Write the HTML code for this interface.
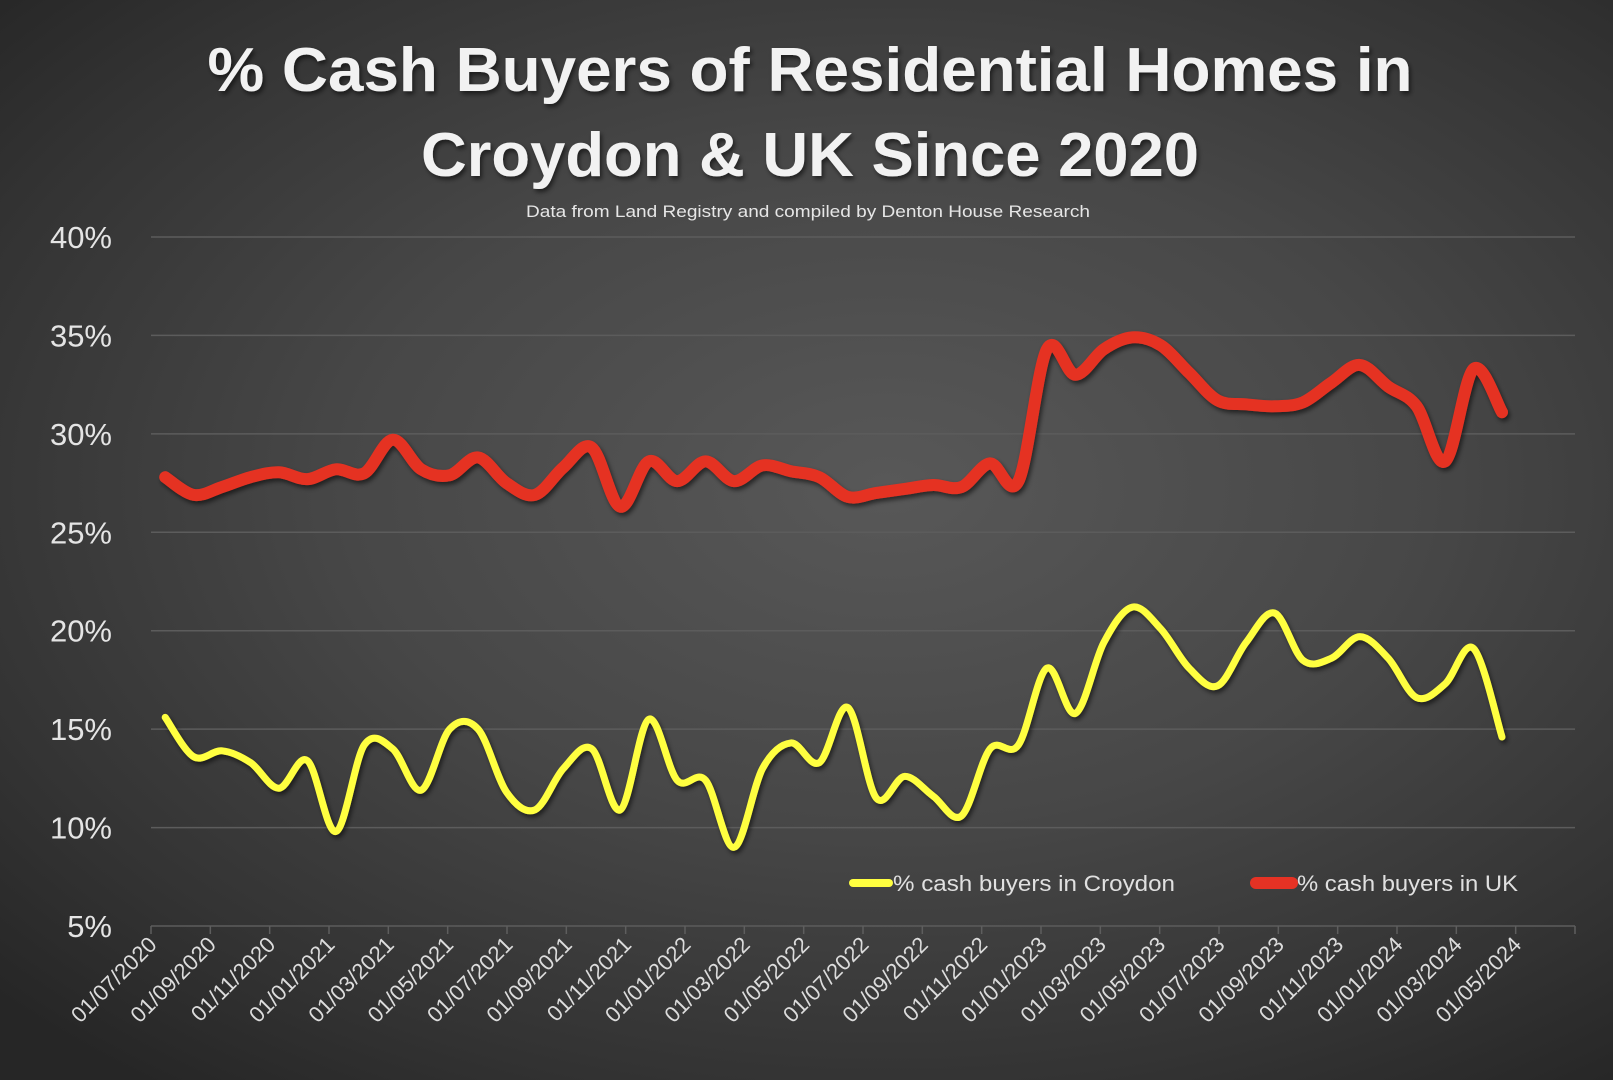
<!DOCTYPE html>
<html><head><meta charset="utf-8"><style>
html,body{margin:0;padding:0;}
body{width:1613px;height:1080px;overflow:hidden;background:radial-gradient(ellipse 75% 70% at 55% 45%,#585858 0%,#474747 45%,#333 80%,#262626 100%);font-family:"Liberation Sans",sans-serif;}
svg{display:block}
</style></head><body>
<svg id="chart" width="1613" height="1080" xmlns="http://www.w3.org/2000/svg">
<defs><filter id="sh" x="-5%" y="-20%" width="110%" height="140%"><feDropShadow dx="2" dy="3" stdDeviation="2.5" flood-color="#000" flood-opacity="0.55"/></filter></defs>
<text x="810" y="91" text-anchor="middle" font-size="62" font-weight="bold" fill="#f2f2f2" textLength="1205" lengthAdjust="spacingAndGlyphs" filter="url(#sh)">% Cash Buyers of Residential Homes in</text>
<text x="810" y="176" text-anchor="middle" font-size="62" font-weight="bold" fill="#f2f2f2" textLength="778" lengthAdjust="spacingAndGlyphs" filter="url(#sh)">Croydon &amp; UK Since 2020</text>
<text x="808" y="217" text-anchor="middle" font-size="17" fill="#e6e6e6" textLength="564" lengthAdjust="spacingAndGlyphs">Data from Land Registry and compiled by Denton House Research</text>
<g id="grid"></g><g id="yt"></g><g id="xt"></g><g id="series"></g>
<g>
<g><line x1="853" y1="883" x2="889" y2="883" stroke="#ffff40" stroke-width="8" stroke-linecap="round"/><text x="893" y="891" font-size="22" fill="#e0e0e0" textLength="282" lengthAdjust="spacingAndGlyphs">% cash buyers in Croydon</text></g>
<g><line x1="1256" y1="883" x2="1292" y2="883" stroke="#e53224" stroke-width="12" stroke-linecap="round"/><text x="1297" y="891" font-size="22" fill="#e0e0e0" textLength="221" lengthAdjust="spacingAndGlyphs">% cash buyers in UK</text></g>
</g>
</svg>
<script>
const yTicks=[5,10,15,20,25,30,35,40];
const xTickLabels=["01/07/2020","01/09/2020","01/11/2020","01/01/2021","01/03/2021","01/05/2021","01/07/2021","01/09/2021","01/11/2021","01/01/2022","01/03/2022","01/05/2022","01/07/2022","01/09/2022","01/11/2022","01/01/2023","01/03/2023","01/05/2023","01/07/2023","01/09/2023","01/11/2023","01/01/2024","01/03/2024","01/05/2024"];
const croydon=[15.6,13.6,13.9,13.3,12.0,13.4,9.8,14.2,14.0,11.9,15.0,15.0,11.8,10.9,13.0,14.0,10.9,15.5,12.4,12.4,9.0,13.0,14.3,13.3,16.1,11.5,12.6,11.6,10.6,14.0,14.2,18.1,15.8,19.4,21.2,20.1,18.1,17.2,19.4,20.9,18.5,18.6,19.7,18.6,16.6,17.3,19.1,14.6];
const uk=[27.8,26.9,27.3,27.8,28.05,27.7,28.2,28.0,29.7,28.2,27.9,28.8,27.5,26.9,28.3,29.3,26.3,28.6,27.6,28.6,27.6,28.4,28.1,27.8,26.8,27.0,27.2,27.4,27.3,28.5,27.6,34.3,33.0,34.3,34.9,34.5,33.1,31.7,31.5,31.4,31.6,32.6,33.5,32.4,31.4,28.6,33.3,31.1];
const NS="http://www.w3.org/2000/svg";
const X0=151,X1=1575,Y40=237,Y5=926,MONTHS=48;
const DX0=165.2,DX1=1502;
function xs(m){return X0+(X1-X0)*m/MONTHS;}
function xd(i,n){return DX0+(DX1-DX0)*i/(n-1);}
function ys(v){return Y5-(v-5)*(Y5-Y40)/35;}
function mk(t,a,p){const e=document.createElementNS(NS,t);for(const k in a)e.setAttribute(k,a[k]);p.appendChild(e);return e;}
const grid=document.getElementById('grid'),yt=document.getElementById('yt'),xt=document.getElementById('xt'),ser=document.getElementById('series');
yTicks.forEach(v=>{
 const l=mk('line',{x1:X0,x2:X1,y1:ys(v),y2:ys(v),stroke:'#5c5c5c','stroke-width':1.5},grid);
 
 
 const t=mk('text',{x:112,y:ys(v)+11,'text-anchor':'end','font-size':31,fill:'#e4e4e4'},yt);
 t.textContent=v+'%';
 
 
});
for(let i=0;i<=24;i++){const x=xs(i*2);const tk=mk('line',{x1:x,x2:x,y1:Y5,y2:Y5+8,stroke:'#5e5e5e','stroke-width':1.5},xt);
 
 }
xTickLabels.forEach((s,i)=>{const x=xs(i*2)+7,y=Y5+20;
 const t=mk('text',{x:x,y:y,'text-anchor':'end','font-size':22,fill:'#dcdcdc',transform:`rotate(-45 ${x} ${y})`},xt);
 t.textContent=s;
 
 });
function path(vals){const p=vals.map((v,i)=>[xd(i,vals.length),ys(v)]);let d=`M${p[0][0]},${p[0][1]}`;
 for(let i=0;i<p.length-1;i++){const a=p[i-1]||p[i],b=p[i],c=p[i+1],e=p[i+2]||c;const t=6;
  d+=` C${b[0]+(c[0]-a[0])/t},${b[1]+(c[1]-a[1])/t} ${c[0]-(e[0]-b[0])/t},${c[1]-(e[1]-b[1])/t} ${c[0]},${c[1]}`;}return d;}
const pu=mk('path',{d:path(uk),fill:'none',stroke:'#e53224','stroke-width':12,'stroke-linecap':'round','stroke-linejoin':'round',filter:'url(#sh)'},ser);


const pc=mk('path',{d:path(croydon),fill:'none',stroke:'#ffff40','stroke-width':7,'stroke-linecap':'round','stroke-linejoin':'round',filter:'url(#sh)'},ser);


</script>
</body></html>
